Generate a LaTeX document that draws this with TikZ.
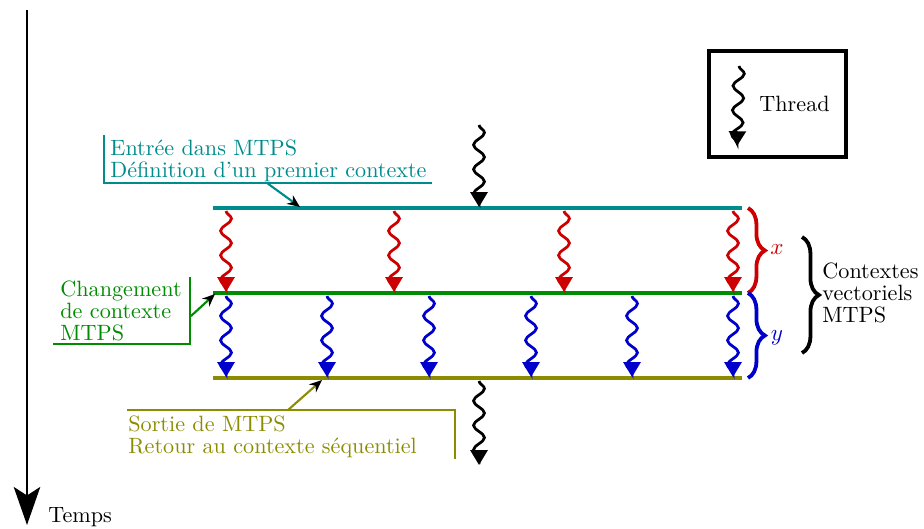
\documentclass[tikz,border=0pt]{standalone}
\usetikzlibrary{decorations.pathmorphing,decorations.pathreplacing,arrows.meta}
\definecolor{cteal}{RGB}{0,140,140}
\definecolor{cgreen}{RGB}{0,140,0}
\definecolor{colive}{RGB}{140,140,0}
\definecolor{cred}{RGB}{204,0,0}
\definecolor{cblue}{RGB}{0,0,204}
\begin{document}
\begin{tikzpicture}[x=0.474pt,y=-0.474pt,
  thr/.style={decorate,decoration={snake,amplitude=2.6pt,segment length=11.6pt},line width=1.3pt,-{Triangle[length=7pt,width=8pt]}},
  ctx/.style={line width=1.9pt},
  br/.style={decorate,decoration={brace,amplitude=8pt},line width=1.8pt},
  ann/.style={line width=1pt},
  annarrow/.style={line width=1pt,-{Stealth[black,length=6pt,width=5pt]}},
  txt/.style={font=\fontsize{10.5}{10.6}\selectfont,inner sep=0pt,align=left}
]
\useasboundingbox (0,0) rectangle (924,528);

% time axis
\coordinate (ta) at (27,10);
\coordinate (tb) at (27,525);
\draw[line width=1.4pt,-{Stealth[length=18pt,width=12.5pt,inset=4pt]}] (ta) -- (tb);
\node[txt,anchor=base west] (temps) at (48,522) {Temps};

% legend box
\node[draw,line width=1.5pt,minimum width=137*0.474pt,minimum height=106*0.474pt,inner sep=0pt] (legend) at (777.5,104) {};
\coordinate (lgs) at (739,66);
\coordinate (lge) at (737,146);
\draw[thr] (lgs) -- (lge);
\node[txt,anchor=base west] (thread) at (759,111) {Thread};

% context lines
\coordinate (t1) at (213,208); \coordinate (t2) at (742,208);
\coordinate (g1) at (213,293); \coordinate (g2) at (742,293);
\coordinate (o1) at (213,378); \coordinate (o2) at (742,378);
\draw[ctx,cteal] (t1) -- (t2);
\draw[ctx,cgreen] (g1) -- (g2);
\draw[ctx,colive] (o1) -- (o2);

% red threads
\foreach \i/\x in {1/226,2/394,3/564,4/733}{
  \coordinate (rs\i) at (\x,211);
  \coordinate (re\i) at (\x,292);
  \draw[thr,cred] (rs\i) -- (re\i);
}
% blue threads
\foreach \i/\x in {1/226,2/327,3/429,4/531,5/632,6/733}{
  \coordinate (bs\i) at (\x,296);
  \coordinate (be\i) at (\x,377);
  \draw[thr,cblue] (bs\i) -- (be\i);
}
% black threads
\coordinate (ks) at (479,125); \coordinate (ke) at (479,207);
\draw[thr] (ks) -- (ke);
\coordinate (ks2) at (479,381); \coordinate (ke2) at (479,465);
\draw[thr] (ks2) -- (ke2);

% braces
\coordinate (bx1) at (748,208); \coordinate (bx2) at (748,293);
\coordinate (by1) at (748,293); \coordinate (by2) at (748,378);
\draw[br,cred] (bx1) -- (bx2);
\draw[br,cblue] (by1) -- (by2);
\node[txt,text=cred] (lx) at (777,250) {$x$};
\node[txt,text=cblue] (ly) at (777,338) {$y$};
\coordinate (bk1) at (802,237); \coordinate (bk2) at (802,353);
\draw[decorate,decoration={brace,amplitude=8pt},line width=1.8pt] (bk1) -- (bk2);
\node[txt,anchor=west] (ctxv) at (822,293) {Contextes\\vectoriels\\MTPS};

% teal annotation
\coordinate (ta1) at (104,135); \coordinate (ta2) at (104,183); \coordinate (ta3) at (432,183);
\draw[ann,cteal] (ta1) -- (ta2) -- (ta3);
\node[txt,text=cteal,anchor=north west] (entree) at (110,139) {Entrée dans MTPS\\Définition d’un premier contexte};
\coordinate (tas) at (267,183); \coordinate (tae) at (300,207);
\draw[annarrow,cteal] (tas) -- (tae);

% green annotation
\coordinate (ga1) at (190,277); \coordinate (ga2) at (190,344); \coordinate (ga3) at (53,344);
\draw[ann,cgreen] (ga1) -- (ga2) -- (ga3);
\node[txt,text=cgreen,anchor=north west] (chg) at (60,280) {Changement\\de contexte\\MTPS};
\coordinate (gas) at (191,316); \coordinate (gae) at (215,294);
\draw[annarrow,cgreen] (gas) -- (gae);

% olive annotation
\coordinate (oa1) at (127,410); \coordinate (oa2) at (455,410); \coordinate (oa3) at (455,459);
\draw[ann,colive] (oa1) -- (oa2) -- (oa3);
\node[txt,text=colive,anchor=north west] (sortie) at (128,415) {Sortie de MTPS\\Retour au contexte séquentiel};
\coordinate (oas) at (288,410); \coordinate (oae) at (322,380);
\draw[annarrow,colive] (oas) -- (oae);
\end{tikzpicture}
\end{document}
